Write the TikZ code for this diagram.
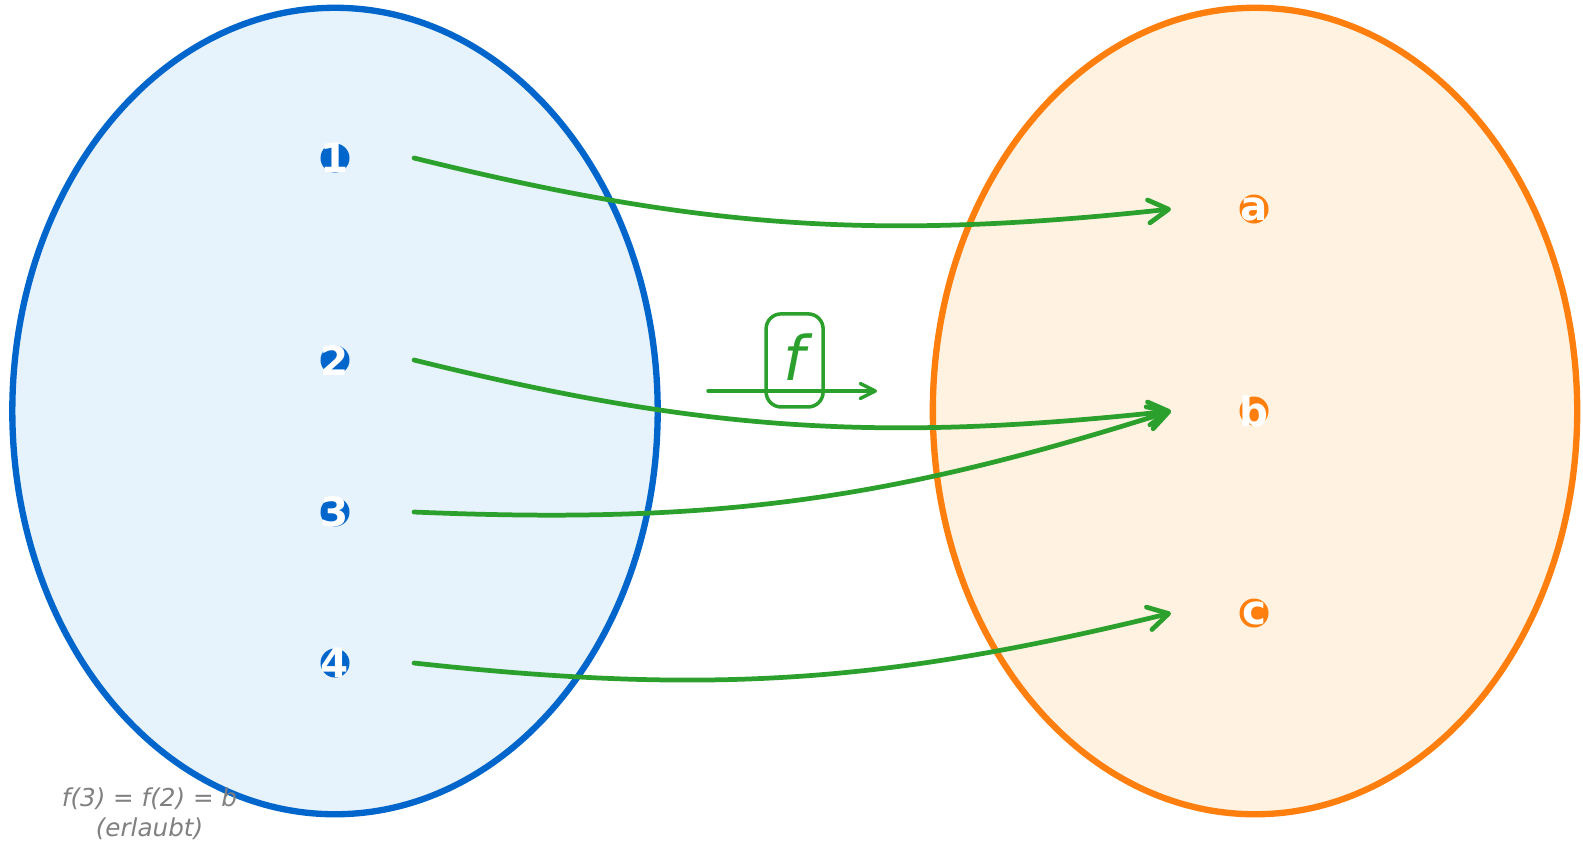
\documentclass[tikz,border=0pt]{standalone}
\usepackage{fontspec}
\setmainfont{DejaVu Sans}
\usetikzlibrary{arrows.meta}

\definecolor{domblue}{RGB}{0,102,204}
\definecolor{domfill}{RGB}{230,242,252}
\definecolor{codorange}{RGB}{255,127,14}
\definecolor{codfill}{RGB}{255,242,224}
\definecolor{mapgreen}{RGB}{44,160,44}
\definecolor{notegray}{RGB}{128,128,128}

\tikzset{set domain/.style={draw=domblue,fill=domfill,line width=1.8pt},
set codomain/.style={draw=codorange,fill=codfill,line width=1.8pt},
elem dot/.style={circle,minimum size=0.29cm,inner sep=0pt},
elem label/.style={font=\fontsize{11.5}{13}\selectfont\bfseries,text=white,inner sep=0pt},
map arrow/.style={draw=mapgreen,line width=1.35pt,line cap=round,-{Straight Barb[length=0.2cm,width=0.23cm,round]}},
f box/.style={draw=mapgreen,line width=1pt,rounded corners=0.15cm,minimum width=0.57cm,minimum height=0.93cm,inner sep=0pt,text=mapgreen,font=\fontsize{17.5}{20}\selectfont\itshape},
f arrow/.style={draw=mapgreen,line width=1pt,line cap=round,-{Straight Barb[length=0.15cm,width=0.15cm,round]}},
note text/.style={font=\fontsize{7}{8.5}\selectfont\itshape,text=notegray,align=center,inner sep=0pt}}

\begin{document}
\begin{tikzpicture}[x=0.01cm,y=0.01cm]
\useasboundingbox (0,0) rectangle (1583,-841);

%% the two sets
\draw [set domain] (335,-411) ellipse [x radius=3.225cm,y radius=4.03cm];
\draw [set codomain] (1255,-411) ellipse [x radius=3.22cm,y radius=4.03cm];

%% elements of the domain
\node [elem dot,fill=domblue,label={[elem label]center:1}] (x1) at (335,-158) {};
\node [elem dot,fill=domblue,label={[elem label]center:2}] (x2) at (335,-360) {};
\node [elem dot,fill=domblue,label={[elem label]center:3}] (x3) at (335,-512) {};
\node [elem dot,fill=domblue,label={[elem label]center:4}] (x4) at (335,-663) {};

%% elements of the codomain
\node [elem dot,fill=codorange,label={[elem label]center:a}] (ya) at (1254,-209) {};
\node [elem dot,fill=codorange,label={[elem label]center:b}] (yb) at (1254,-411) {};
\node [elem dot,fill=codorange,label={[elem label]center:c}] (yc) at (1254,-613) {};

%% the mapping
\draw [map arrow] ([xshift=0.79cm]x1.center) to [bend right=10] ([xshift=-0.83cm]ya.center);
\draw [map arrow] ([xshift=0.79cm]x2.center) to [bend right=10] ([xshift=-0.83cm]yb.center);
\draw [map arrow] ([xshift=0.79cm]x3.center) to [bend right=10] ([xshift=-0.83cm]yb.center);
\draw [map arrow] ([xshift=0.79cm]x4.center) to [bend right=10] ([xshift=-0.83cm]yc.center);

%% name of the map
\coordinate (fstart) at (708,-391);
\coordinate (fend) at (877,-391);
\node [f box] (fname) at (794.6,-360.4) {\raisebox{0.06cm}{f}};
\draw [f arrow] (fstart) -- (fend);

%% note
\node [note text] (note) at (149.5,-814) {f(3) = f(2) = b\\(erlaubt)};

\end{tikzpicture}
\end{document}
